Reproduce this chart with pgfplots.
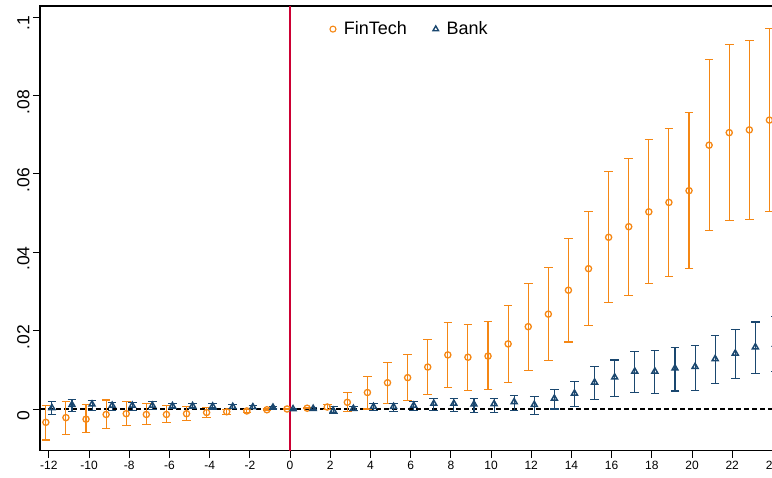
\documentclass[border=0pt]{standalone}
\usepackage{pgfplots}
\pgfplotsset{compat=1.18}
\usepackage{pgfplotstable}
\usepackage{fontspec}
\setmainfont{Liberation Sans}
\definecolor{fin}{RGB}{245,135,20}
\definecolor{bank}{RGB}{26,71,111}
\definecolor{vred}{RGB}{204,0,51}
\pgfplotstableread{
x y lo hi
-12 -0.0034 -0.0079 0.0010
-11 -0.0022 -0.0064 0.0020
-10 -0.0026 -0.0060 0.0012
-9 -0.0014 -0.0050 0.0023
-8 -0.0012 -0.0043 0.0020
-7 -0.0014 -0.0039 0.0013
-6 -0.0014 -0.0035 0.0008
-5 -0.0012 -0.0029 0.0006
-4 -0.0009 -0.0021 0.0003
-3 -0.0007 -0.0013 -0.0001
-2 -0.0005 -0.0009 -0.0001
-1 -0.0002 -0.0004 0.0000
0 0 0 0
1 0.0002 0.0001 0.0003
2 0.0005 -0.0001 0.0011
3 0.0017 -0.0007 0.0042
4 0.0042 0.0000 0.0084
5 0.0067 0.0015 0.0118
6 0.0080 0.0021 0.0138
7 0.0107 0.0037 0.0177
8 0.0138 0.0054 0.0221
9 0.0132 0.0048 0.0215
10 0.0135 0.0049 0.0223
11 0.0166 0.0068 0.0264
12 0.0210 0.0099 0.0321
13 0.0242 0.0123 0.0362
14 0.0303 0.0171 0.0434
15 0.0358 0.0213 0.0503
16 0.0438 0.0272 0.0605
17 0.0465 0.0290 0.0640
18 0.0503 0.0319 0.0688
19 0.0527 0.0339 0.0716
20 0.0557 0.0359 0.0756
21 0.0673 0.0455 0.0892
22 0.0705 0.0480 0.0930
23 0.0712 0.0484 0.0940
24 0.0737 0.0503 0.0971
}\fintech
\pgfplotstableread{
x y lo hi
-12 0.0003 -0.0014 0.0020
-11 0.0011 -0.0007 0.0025
-10 0.0012 -0.0005 0.0021
-9 0.0009 -0.0004 0.0017
-8 0.0009 -0.0003 0.0017
-7 0.0009 -0.0001 0.0018
-6 0.0008 0.0001 0.0014
-5 0.0008 0.0001 0.0014
-4 0.0007 0.0000 0.0014
-3 0.0006 0.0001 0.0011
-2 0.0005 0.0001 0.0009
-1 0.0004 0.0001 0.0007
0 0 0 0
1 0.0001 -0.0001 0.0003
2 -0.0004 -0.0012 0.0006
3 0.0001 -0.0004 0.0006
4 0.0006 -0.0004 0.0014
5 0.0006 -0.0006 0.0013
6 0.0009 -0.0004 0.0018
7 0.0014 -0.0003 0.0027
8 0.0014 -0.0006 0.0027
9 0.0012 -0.0008 0.0026
10 0.0013 -0.0008 0.0026
11 0.0018 -0.0005 0.0034
12 0.0011 -0.0014 0.0031
13 0.0027 0.0000 0.0050
14 0.0040 0.0007 0.0069
15 0.0068 0.0024 0.0109
16 0.0081 0.0032 0.0125
17 0.0096 0.0043 0.0147
18 0.0096 0.0040 0.0150
19 0.0104 0.0046 0.0158
20 0.0108 0.0048 0.0163
21 0.0128 0.0065 0.0187
22 0.0142 0.0078 0.0202
23 0.0158 0.0090 0.0222
24 0.0165 0.0095 0.0235
}\bank
\begin{document}
\begin{tikzpicture}
\begin{axis}[
  at={(40pt,27.3pt)}, anchor=south west,
  scale only axis, width=742.5pt, height=444.7pt,
  xmin=-12.44, xmax=24.5, ymin=-0.01064, ymax=0.10281,
  xtick={-12,-10,-8,-6,-4,-2,0,2,4,6,8,10,12,14,16,18,20,22,24},
  xticklabels={-12,-10,-8,-6,-4,-2,0,2,4,6,8,10,12,14,16,18,20,22,24},
  ytick={0,0.02,0.04,0.06,0.08,0.1},
  yticklabels={0,.02,.04,.06,.08,.1},
  tick pos=left, tick align=outside, major tick length=7pt,
  every tick/.style={black, line width=0.8pt},
  axis line style={black, line width=1.2pt},
  xticklabel style={font=\fontsize{12}{14}\selectfont},
  yticklabel style={font=\fontsize{17.5}{20}\selectfont, rotate=90, anchor=south, xshift=-6.5pt},
  legend style={draw=none, fill=none, at={(0.498,0.948)}, anchor=center,
    font=\fontsize{18}{21}\selectfont},
  legend columns=2,
  legend cell align=left,
  /tikz/every odd column/.append style={column sep=6pt},
  /tikz/every even column/.append style={column sep=24pt},
]
\addlegendimage{only marks, mark=o, fin, mark size=3pt, line width=1.1pt}
\addlegendentry{FinTech}
\addlegendimage{only marks, mark=triangle, bank, mark size=3.2pt, line width=1.4pt}
\addlegendentry{Bank}
\addplot[vred, line width=1.3pt, forget plot] coordinates {(0,-0.01064) (0,0.10281)};
\addplot[black, line width=1.4pt, dash pattern=on 5pt off 3pt, forget plot] coordinates {(-12.44,0) (24.5,0)};
\addplot[forget plot, only marks, mark=o, fin, mark size=3.1pt, line width=1.3pt,
  error bars/.cd, y dir=both, y explicit, error mark=-,
  error bar style={line width=1.1pt, fin},
  error mark options={rotate=90, mark size=4.3pt, line width=1.1pt, fin}]
  table[x expr=\thisrow{x}-0.15, y=y,
        y error plus expr=\thisrow{hi}-\thisrow{y},
        y error minus expr=\thisrow{y}-\thisrow{lo}] {\fintech};
\addplot[forget plot, only marks, mark=triangle, bank, mark size=3.4pt, line width=1.5pt,
  error bars/.cd, y dir=both, y explicit, error mark=-,
  error bar style={line width=1.1pt, bank},
  error mark options={rotate=90, mark size=4.3pt, line width=1.1pt, bank}]
  table[x expr=\thisrow{x}+0.15, y=y,
        y error plus expr=\thisrow{hi}-\thisrow{y},
        y error minus expr=\thisrow{y}-\thisrow{lo}] {\bank};
\end{axis}
\pgfresetboundingbox
\path[use as bounding box] (0,0) rectangle (772pt,478pt);
\end{tikzpicture}
\end{document}
